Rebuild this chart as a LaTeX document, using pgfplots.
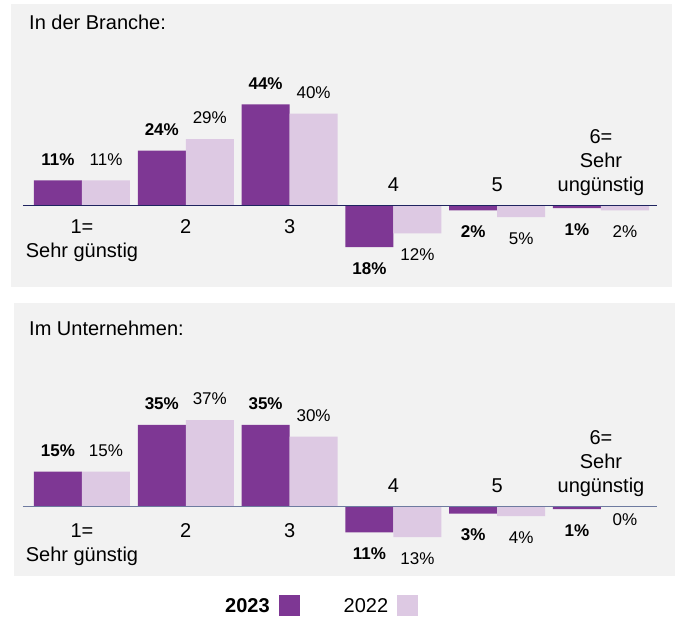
\documentclass[border=0pt]{standalone}
\usepackage{pgfplots}
\pgfplotsset{compat=1.18}
\usepackage{fontspec}
\setmainfont{Liberation Sans}
\definecolor{dark}{HTML}{7E3794}
\definecolor{light}{HTML}{DDC9E3}
\definecolor{bg}{HTML}{F2F2F2}
\definecolor{navy}{HTML}{1F2460}
\definecolor{slate}{HTML}{6E7BA0}

\newcommand{\lblfont}{\fontsize{20bp}{24bp}\selectfont}
\newcommand{\valfont}{\fontsize{17bp}{20bp}\selectfont}

\pgfplotsset{
  panel/.style={
    hide axis, clip=false,
    x=103.8bp,
    xmin=0.43, xmax=6.54,
    ybar=0pt, bar width=48bp,
    point meta=explicit symbolic,
    nodes near coords={\pgfplotspointmeta\%},
    every node near coord/.append style={font=\valfont, inner xsep=0pt, inner ysep=15bp, text=black},
  },
  s23/.style={fill=dark, draw=none, bar shift=-24bp, every node near coord/.append style={font=\valfont\bfseries}},
  s22/.style={fill=light, draw=none, bar shift=24bp},
  up/.style={nodes near coords align={anchor=south}},
  down/.style={nodes near coords align={anchor=north}},
}

\begin{document}
\begin{tikzpicture}
\path[use as bounding box] (0bp,0bp) rectangle (675bp,-618bp);
\fill[bg] (11bp,-4bp) rectangle (672bp,-286.7bp);
\fill[bg] (14bp,-303.3bp) rectangle (675bp,-575.7bp);
\node[anchor=base west, inner sep=0pt, font=\lblfont] at (29bp,-29.5bp) {In der Branche:};
\node[anchor=base west, inner sep=0pt, font=\lblfont] at (29bp,-335bp) {Im Unternehmen:};

% Panel 1
\begin{axis}[panel, y=2.3bp, ymin=-35, ymax=80,
  at={(22.83bp,-286.2bp)}, anchor=south west]
\addplot[s23, up] coordinates {(1,11) [11] (2,24) [24] (3,44) [44]};
\addplot[s23, down] coordinates {(4,-18) [18] (5,-2) [2] (6,-1) [1]};
\addplot[s22, up] coordinates {(1,11) [11] (2,29) [29] (3,40) [40]};
\addplot[s22, down] coordinates {(4,-12) [12] (5,-5) [5] (6,-2) [2]};
\draw[navy, line width=0.9bp] (axis cs:0.43,0) -- (axis cs:6.54,0);
\node[font=\lblfont, align=center, anchor=north, inner sep=0pt] at ([yshift=-14bp]axis cs:1,0) {1=\\Sehr günstig};
\node[font=\lblfont, anchor=north, inner sep=0pt] at ([yshift=-14bp]axis cs:2,0) {2};
\node[font=\lblfont, anchor=north, inner sep=0pt] at ([yshift=-14bp]axis cs:3,0) {3};
\node[font=\lblfont, anchor=south, inner sep=0pt] at ([yshift=14bp]axis cs:4,0) {4};
\node[font=\lblfont, anchor=south, inner sep=0pt] at ([yshift=14bp]axis cs:5,0) {5};
\node[font=\lblfont, align=center, anchor=south, inner sep=0pt] at ([yshift=9.5bp]axis cs:6,0) {6=\\Sehr\\ungünstig};
\end{axis}

% Panel 2
\begin{axis}[panel, y=2.34bp, ymin=-46, ymax=80,
  at={(22.83bp,-614.34bp)}, anchor=south west,
  legend plot pos=right,
  legend image code/.code={\fill[#1] (0bp,-10.5bp) rectangle (21bp,10.5bp);},
  legend style={at={(axis cs:2.378,-42.4)}, anchor=west, draw=none, fill=none,
    inner sep=0pt, legend columns=2, column sep=0pt,
    nodes={inner sep=0pt, font=\lblfont},
    /tikz/every odd column/.append style={column sep=9bp},
    /tikz/every even column/.append style={column sep=44bp}},
]
\addplot[s23, up] coordinates {(1,15) [15] (2,35) [35] (3,35) [35]};
\addlegendentry{\textbf{2023}}
\addplot[s22, up] coordinates {(1,15) [15] (2,37) [37] (3,30) [30]};
\addlegendentry{2022}
\addplot[s23, down, forget plot] coordinates {(4,-11) [11] (5,-3) [3] (6,-1) [1]};
\addplot[s22, down, forget plot] coordinates {(4,-13) [13] (5,-4) [4]};
\addplot[s22, down, forget plot, every node near coord/.append style={yshift=8bp}] coordinates {(6,0) [0]};
\draw[slate, line width=1.3bp] (axis cs:0.43,0) -- (axis cs:6.54,0);
\node[font=\lblfont, align=center, anchor=north, inner sep=0pt] at ([yshift=-17bp]axis cs:1,0) {1=\\Sehr günstig};
\node[font=\lblfont, anchor=north, inner sep=0pt] at ([yshift=-17bp]axis cs:2,0) {2};
\node[font=\lblfont, anchor=north, inner sep=0pt] at ([yshift=-17bp]axis cs:3,0) {3};
\node[font=\lblfont, anchor=south, inner sep=0pt] at ([yshift=14bp]axis cs:4,0) {4};
\node[font=\lblfont, anchor=south, inner sep=0pt] at ([yshift=14bp]axis cs:5,0) {5};
\node[font=\lblfont, align=center, anchor=south, inner sep=0pt] at ([yshift=9.5bp]axis cs:6,0) {6=\\Sehr\\ungünstig};
\end{axis}
\end{tikzpicture}
\end{document}
